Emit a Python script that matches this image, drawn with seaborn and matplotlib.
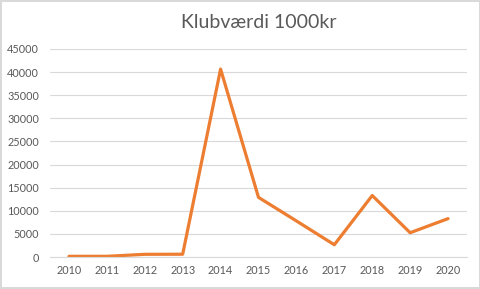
import matplotlib
matplotlib.use("Agg")
import matplotlib.pyplot as plt
import seaborn as sns
import pandas as pd

years = ["2010", "2011", "2012", "2013", "2014", "2015", "2016", "2017", "2018", "2019", "2020"]
values = [150, 150, 580, 600, 40650, 12900, 7800, 2650, 13300, 5250, 8300]
y_ticks = [0, 5000, 10000, 15000, 20000, 25000, 30000, 35000, 40000, 45000]
title = "Klubværdi 1000kr"

sns.set_theme(style="white")
plt.rcParams["font.family"] = ["Lato", "DejaVu Sans"]

df = pd.DataFrame({"year": years, "value": values})

W, H = 481, 289
fig = plt.figure(figsize=(W / 100, H / 100), dpi=100)
fig.patch.set_facecolor("white")
fig.patch.set_edgecolor("#D9D9D9")
fig.patch.set_linewidth(1.5)

ax = fig.add_axes([50 / W, 1 - 257 / H, (467 - 50) / W, (257 - 49) / H])
sns.lineplot(data=df, x="year", y="value", ax=ax, color="#ED7D31", linewidth=2.3,
             sort=False)

ax.set_xlim(-0.5, len(years) - 0.5)
ax.set_ylim(0, 45000)
ax.set_yticks(y_ticks)
ax.set_yticklabels([str(v) for v in y_ticks])
ax.grid(axis="y", color="#D9D9D9", linewidth=0.8)
ax.set_axisbelow(True)
for s in ["top", "right", "left"]:
    ax.spines[s].set_visible(False)
ax.spines["bottom"].set_color("#D9D9D9")
ax.spines["bottom"].set_linewidth(0.8)
ax.tick_params(axis="both", length=0, labelsize=7.8, colors="#595959")
ax.tick_params(axis="y", pad=8)
ax.tick_params(axis="x", pad=6)
ax.set_xlabel("")
ax.set_ylabel("")
fig.text((50 + 467) / 2 / W, 1 - 22 / H, title, ha="center", va="center",
         fontsize=14, color="#595959")

fig.savefig("out.png", dpi=100, facecolor=fig.get_facecolor(), edgecolor=fig.get_edgecolor())
